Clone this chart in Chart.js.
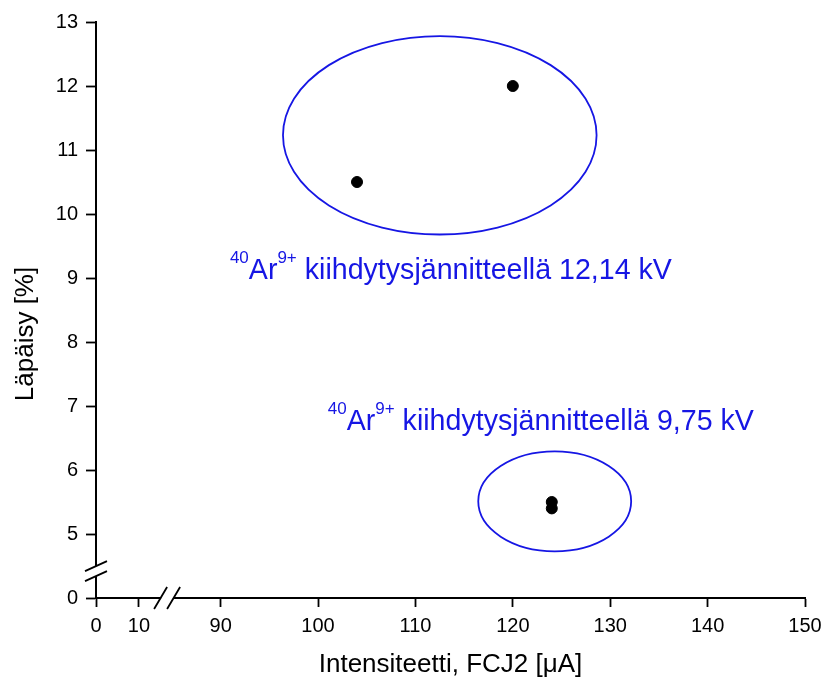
<!DOCTYPE html>
<html>
<head>
<meta charset="utf-8">
<script src="https://cdn.jsdelivr.net/npm/chart.js@4.4.1/dist/chart.umd.min.js"></script>
<style>
  html, body { margin: 0; padding: 0; background: #fff; }
  #wrap { width: 823px; height: 682px; }
</style>
</head>
<body>
<div id="wrap"><canvas id="chart"></canvas></div>
<script>
// measured points: intensity FCJ2 [uA] vs transmission [%]
const intensity = [104, 120, 124, 124];
const transmission = [10.5, 12, 5.5, 5.4];

const xTickLabels = [0, 10, 90, 100, 110, 120, 130, 140, 150];
const yTickLabels = [0, 5, 6, 7, 8, 9, 10, 11, 12, 13];

// groups: ellipse centre / radii in data units + caption
const groupCx = [112.5, 124.3];
const groupCy = [11.23, 5.51];
const groupRx = [16.1, 7.85];
const groupRy = [1.55, 0.78];
const captionX = [90.95, 101.0];
const captionY = [8.98, 6.62];
const captionVoltage = ['12,14 kV', '9,75 kV'];

const yTitle = 'Läpäisy [%]';

// broken axes: low part of x (0..10) squeezed before 90, y = 0 placed one unit below 5
const xLow = v => (v >= 90 ? v : 77.2 + v * 0.441);
const yLow = v => (v >= 5 ? v : 4);
const xBreak = 84.5;
const yBreak = 4.42;

const blue = 'rgb(22,22,228)';
const font = 'Liberation Sans, Arial, sans-serif';

const extras = {
  id: 'extras',
  afterDatasetsDraw(chart) {
    const { ctx, scales: { x, y } } = chart;
    ctx.save();
    // ellipses
    ctx.strokeStyle = blue;
    ctx.lineWidth = 1.8;
    groupCx.forEach((cx, i) => {
      const px = x.getPixelForValue(cx), py = y.getPixelForValue(groupCy[i]);
      const rx = Math.abs(x.getPixelForValue(cx + groupRx[i]) - px);
      const ry = Math.abs(y.getPixelForValue(groupCy[i] + groupRy[i]) - py);
      ctx.beginPath();
      ctx.ellipse(px, py, rx, ry, 0, 0, Math.PI * 2);
      ctx.stroke();
    });
    // captions with superscripts
    ctx.fillStyle = blue;
    ctx.textBaseline = 'alphabetic';
    ctx.textAlign = 'left';
    captionX.forEach((cx, i) => {
      let px = x.getPixelForValue(cx);
      const py = y.getPixelForValue(captionY[i]);
      const parts = [
        ['40', 17, -16], ['Ar', 28.6, 0], ['9+', 17, -16],
        [' kiihdytysjännitteellä ' + captionVoltage[i], 28.6, 0]
      ];
      parts.forEach(([t, size, dy]) => {
        ctx.font = size + 'px ' + font;
        ctx.fillText(t, px, py + dy);
        px += ctx.measureText(t).width;
      });
    });
    ctx.restore();
  },
  afterDraw(chart) {
    const { ctx, scales: { x, y } } = chart;
    const bx = x.getPixelForValue(xBreak);
    const by = y.getPixelForValue(yBreak);
    const ax = chart.chartArea.left, ay = chart.chartArea.bottom;
    ctx.save();
    ctx.fillStyle = '#fff';
    ctx.fillRect(bx - 6, ay - 3, 12, 6);
    ctx.fillRect(ax - 3, by - 5, 6, 10);
    ctx.strokeStyle = '#000';
    ctx.lineWidth = 1.8;
    ctx.beginPath();
    [-6.5, 6.5].forEach(d => {
      ctx.moveTo(bx + d - 6.5, ay + 11);
      ctx.lineTo(bx + d + 6.5, ay - 11);
    });
    [-5, 5].forEach(d => {
      ctx.moveTo(ax - 11, by + d + 5);
      ctx.lineTo(ax + 11, by + d - 5);
    });
    ctx.stroke();
    // y axis title, sits a little below the axis middle
    ctx.translate(26, 334);
    ctx.rotate(-Math.PI / 2);
    ctx.fillStyle = '#000';
    ctx.font = '26px ' + font;
    ctx.textAlign = 'center';
    ctx.textBaseline = 'middle';
    ctx.fillText(yTitle, 0, 0);
    ctx.restore();
  }
};

new Chart(document.getElementById('chart'), {
  type: 'scatter',
  data: {
    datasets: [{
      data: intensity.map((v, i) => ({ x: v, y: transmission[i] })),
      backgroundColor: '#000',
      borderColor: '#000',
      pointRadius: 5.5,
      pointHoverRadius: 5.5
    }]
  },
  options: {
    responsive: true,
    maintainAspectRatio: false,
    animation: false,
    layout: { padding: { left: 0, right: 0, top: 22, bottom: 0 } },
    plugins: { legend: { display: false }, tooltip: { enabled: false } },
    scales: {
      x: {
        type: 'linear',
        min: xLow(0),
        max: 150,
        afterBuildTicks: s => { s.ticks = xTickLabels.map(v => ({ value: xLow(v) })); },
        afterFit: s => { s.height = 84; s.paddingRight = 18; },
        ticks: {
          color: '#000',
          font: { family: font, size: 20 },
          padding: 7,
          maxRotation: 0,
          autoSkip: false,
          callback: (v, i) => xTickLabels[i]
        },
        grid: { drawOnChartArea: false, tickLength: 9, tickWidth: 1.8, color: '#000' },
        border: { color: '#000', width: 2 },
        title: {
          display: true,
          text: 'Intensiteetti, FCJ2 [μA]',
          color: '#000',
          font: { family: font, size: 26 },
          padding: { top: 0, bottom: 2 }
        }
      },
      y: {
        type: 'linear',
        min: yLow(0),
        max: 13,
        afterBuildTicks: s => { s.ticks = yTickLabels.map(v => ({ value: yLow(v) })); },
        afterFit: s => { s.width = 96; },
        ticks: {
          color: '#000',
          font: { family: font, size: 20 },
          padding: 8,
          autoSkip: false,
          callback: (v, i) => yTickLabels[i]
        },
        grid: { drawOnChartArea: false, tickLength: 10, tickWidth: 1.8, color: '#000' },
        border: { color: '#000', width: 2 }
      }
    }
  },
  plugins: [extras]
});
</script>
</body>
</html>
